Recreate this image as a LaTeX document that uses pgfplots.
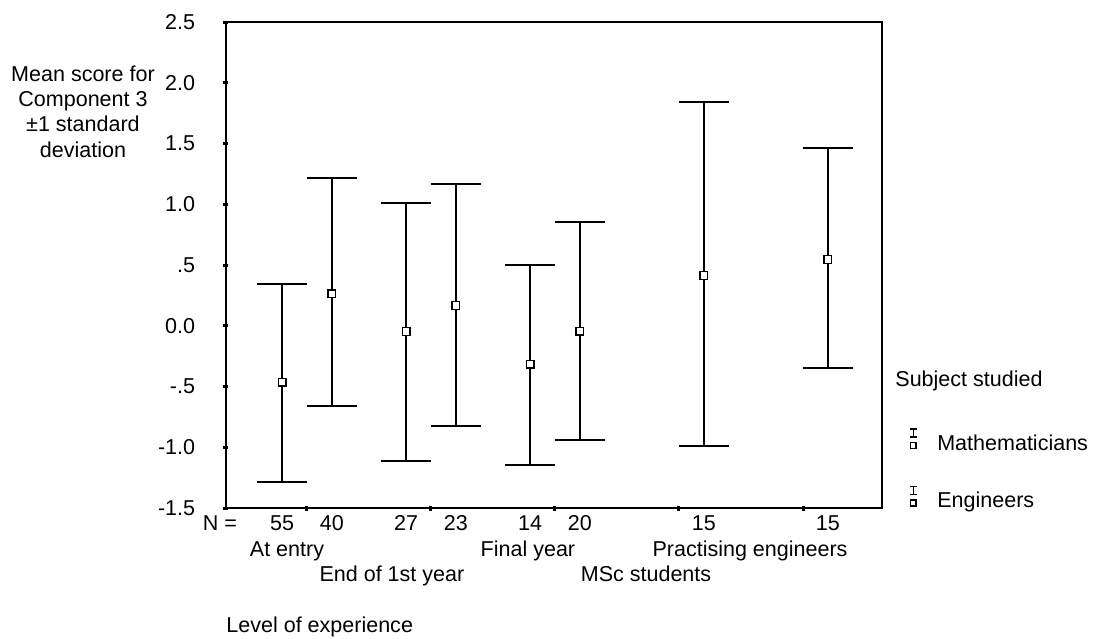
\documentclass[border=0pt]{standalone}
\usepackage{fontspec}
\setmainfont{Liberation Sans}
\usepackage{pgfplots}
\pgfplotsset{compat=1.18}
\usepackage{pgfplotstable}

\pgfplotstableread{
x y ep em
0.8 -0.466 0.812 0.819
1.8 -0.048 1.062 1.064
2.8 -0.315 0.812 0.830
}\mathdata
\pgfplotstableread{
x y ep em
1.2 0.263 0.954 0.924
2.2 0.167 1.001 0.996
3.2 -0.045 0.899 0.897
4.2 0.414 1.430 1.402
5.2 0.546 0.919 0.893
}\engdata

\begin{document}
\begin{tikzpicture}[font=\fontsize{10.8}{12.75}\selectfont]
\begin{axis}[
  at={(0,0)}, anchor=south west,
  width=328bp, height=243bp, scale only axis,
  xmin=0.347, xmax=5.637, ymin=-1.5, ymax=2.5,
  clip=false,
  axis line style={line width=1bp},
  ytick={-1.5,-1,-0.5,0,0.5,1,1.5,2,2.5},
  yticklabels={-1.5,-1.0,-.5,0.0,.5,1.0,1.5,2.0,2.5},
  ytick pos=left, xtick pos=bottom,
  tick align=center,
  major tick length=2.5bp,
  tick style={line width=1.5bp, black},
  yticklabel style={anchor=east, inner sep=0pt, xshift=-14bp},
  xtick={1,2,3,4,5}, xticklabels={},
  extra x ticks={0.8,1.2,1.8,2.2,2.8,3.2,4.2,5.2},
  extra x tick labels={55,40,27,23,14,20,15,15},
  extra x tick style={major tick length=0pt, tick style={draw=none}},
  xticklabel style={anchor=base, inner sep=0pt, yshift=-11bp},
  legend style={at={(1.038,0.1646)}, anchor=north west, draw=none, fill=none,
    inner sep=0pt, row sep=15bp, column sep=0pt,
    nodes={text height=8bp, text depth=2.5bp, inner sep=0pt}},
  legend cell align=left,
  legend image code/.code={
    \draw[line width=0.7bp, black] (-1.6bp,8bp) -- (1.6bp,8bp) (0,8bp) -- (0,4bp) (-1.6bp,4bp) -- (1.6bp,4bp);
    \draw[line width=0.9bp, black] (-1.4bp,-1.7bp) rectangle (1.4bp,1.3bp);
    \path[draw=none, use as bounding box] (-3bp,-1.7bp) rectangle (12bp,8bp);
  },
]
\addplot+[only marks, black, mark=square*, mark size=1.9bp,
  mark options={fill=white, line width=0.7bp},
  error bars/.cd, y dir=both, y explicit,
  error bar style={line width=1bp, black},
  error mark options={rotate=90, line width=1bp, black, mark size=12.5bp}]
  table[x=x, y=y, y error plus=ep, y error minus=em] {\mathdata};
\addlegendentry{Mathematicians}
\addplot+[only marks, black, mark=square*, mark size=1.9bp,
  mark options={fill=white, line width=0.7bp},
  error bars/.cd, y dir=both, y explicit,
  error bar style={line width=1bp, black},
  error mark options={rotate=90, line width=1bp, black, mark size=12.5bp}]
  table[x=x, y=y, y error plus=ep, y error minus=em] {\engdata};
\addlegendentry{Engineers}

\node[anchor=base, inner sep=0pt, yshift=-11bp] at (axis cs:0.298,-1.5) {N =};
\node[anchor=base, inner sep=0pt, yshift=-24bp] at (axis cs:0.839,-1.5) {At entry};
\node[anchor=base, inner sep=0pt, yshift=-36.8bp] at (axis cs:1.685,-1.5) {End of 1st year};
\node[anchor=base, inner sep=0pt, yshift=-24bp] at (axis cs:2.782,-1.5) {Final year};
\node[anchor=base, inner sep=0pt, yshift=-36.8bp] at (axis cs:3.734,-1.5) {MSc students};
\node[anchor=base, inner sep=0pt, yshift=-24bp] at (axis cs:4.573,-1.5) {Practising engineers};
\node[anchor=base west, inner sep=0pt, yshift=-62bp] at (rel axis cs:0,0) {Level of experience};
\node[align=center, inner sep=0pt, xshift=-71.5bp, yshift=-44.75bp] at (rel axis cs:0,1) {Mean score for\\Component 3\\±1 standard\\deviation};
\node[anchor=base west, inner sep=0pt, xshift=334.5bp, yshift=60.65bp] at (rel axis cs:0,0) {Subject studied};
\end{axis}
\pgfresetboundingbox
\path[use as bounding box] (-113bp,-65.5bp) rectangle (436bp,254bp);
\end{tikzpicture}
\end{document}
